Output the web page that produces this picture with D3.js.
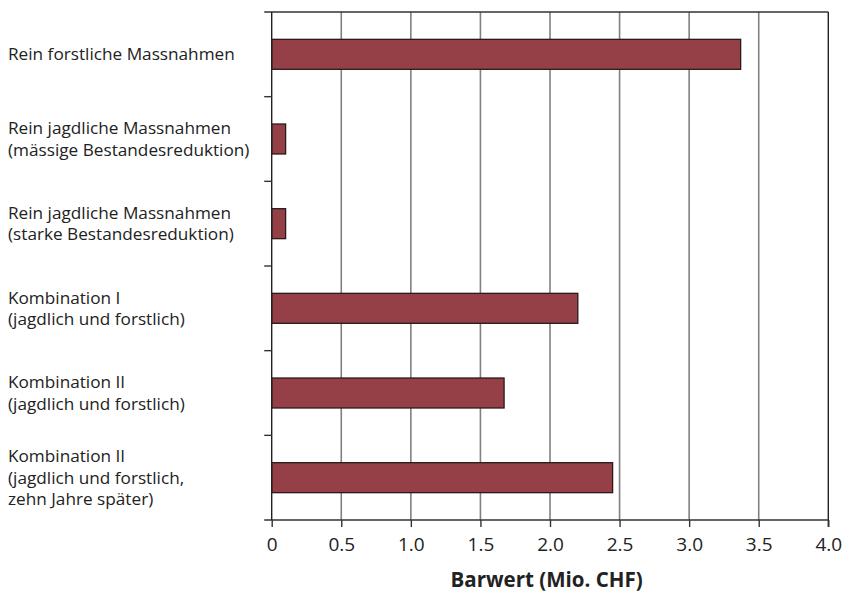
<!DOCTYPE html>
<html><head><meta charset="utf-8">
<script src="https://cdn.jsdelivr.net/npm/d3@7"></script>
<style>body{margin:0;background:#fff}svg{display:block}</style>
</head><body>
<svg id="c" width="845" height="593"></svg>
<script>
const categories = [
  ["Rein forstliche Massnahmen"],
  ["Rein jagdliche Massnahmen", "(mässige Bestandesreduktion)"],
  ["Rein jagdliche Massnahmen", "(starke Bestandesreduktion)"],
  ["Kombination I", "(jagdlich und forstlich)"],
  ["Kombination II", "(jagdlich und forstlich)"],
  ["Kombination II", "(jagdlich und forstlich,", "zehn Jahre später)"]
];
const values = [3.37, 0.10, 0.10, 2.20, 1.67, 2.45];
const xTicks = [0, 0.5, 1.0, 1.5, 2.0, 2.5, 3.0, 3.5, 4.0];
const xTickLabels = ["0", "0.5", "1.0", "1.5", "2.0", "2.5", "3.0", "3.5", "4.0"];
const axisTitle = "Barwert (Mio. CHF)";

const svg = d3.select("#c");
const L = 271.7, R = 828.3, T = 12, B = 520;
const font = "'Open Sans', 'Lato', sans-serif";
const x = d3.scaleLinear().domain([0, 4]).range([L, R]);
const idx = d3.range(categories.length);
const y = d3.scaleBand().domain(idx).range([T, B]).paddingInner(0.646).paddingOuter(0.323);
const step = (B - T) / categories.length;

// gridlines
svg.append("g").selectAll("line").data(xTicks.slice(1, -1)).join("line")
  .attr("x1", d => x(d)).attr("x2", d => x(d)).attr("y1", T).attr("y2", B)
  .attr("stroke", "#808080").attr("stroke-width", 1.6);
// right border
svg.append("line").attr("x1", x(4)).attr("x2", x(4)).attr("y1", T).attr("y2", B + 7)
  .attr("stroke", "#222").attr("stroke-width", 1.4);
// top line
svg.append("line").attr("x1", L - 7.5).attr("x2", R).attr("y1", T).attr("y2", T)
  .attr("stroke", "#333").attr("stroke-width", 1.4);

// bars
svg.append("g").selectAll("rect").data(values).join("rect")
  .attr("x", x(0)).attr("y", (d, i) => y(i))
  .attr("width", d => x(d) - x(0)).attr("height", y.bandwidth())
  .attr("fill", "#944046").attr("stroke", "#2a1a1c").attr("stroke-width", 1.3);

// x axis
const xAxis = d3.axisBottom(x).tickValues(xTicks).tickFormat((d, i) => xTickLabels[i])
  .tickSizeInner(7).tickSizeOuter(0).tickPadding(10);
const gx = svg.append("g").attr("transform", `translate(0,${B})`).call(xAxis);
gx.select(".domain").attr("stroke", "#333").attr("stroke-width", 1.4).attr("d", `M${L - 7.5},0H${R}`);
gx.selectAll(".tick line").attr("stroke", "#333").attr("stroke-width", 1.4);
gx.selectAll(".tick text").attr("font-family", font).attr("font-size", 19).attr("fill", "#222")
  .attr("dy", null).attr("y", 30.7);

// y axis line and boundary ticks
svg.append("line").attr("x1", L).attr("x2", L).attr("y1", T).attr("y2", B)
  .attr("stroke", "#222").attr("stroke-width", 1.4);
svg.append("g").selectAll("line").data(d3.range(1, categories.length)).join("line")
  .attr("x1", L - 7.5).attr("x2", L).attr("y1", d => T + d * step).attr("y2", d => T + d * step)
  .attr("stroke", "#333").attr("stroke-width", 1.4);

// category labels
const lh = 21.5;
const lab = svg.append("g").selectAll("text").data(categories).join("text")
  .attr("font-family", font).attr("font-size", 17.2).attr("fill", "#222")
  .attr("x", 8);
lab.each(function(lines, i) {
  const cy = y(i) + y.bandwidth() / 2;
  const n = lines.length;
  d3.select(this).selectAll("tspan").data(lines).join("tspan")
    .attr("x", 8)
    .attr("y", (d, j) => cy + 6 + (j - (n - 1) / 2) * lh)
    .text(d => d);
});

// axis title
svg.append("text").attr("x", 546.6).attr("y", 587.3).attr("text-anchor", "middle")
  .attr("font-family", font).attr("font-weight", "bold").attr("font-size", 20.5)
  .attr("fill", "#222").text(axisTitle);
</script>
</body></html>
